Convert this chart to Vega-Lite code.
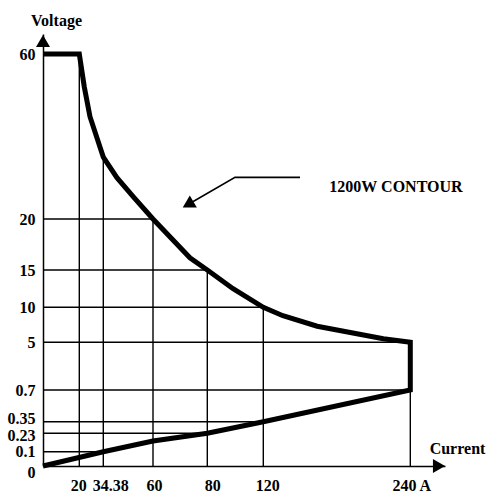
{
  "$schema": "https://vega.github.io/schema/vega-lite/v6.json",
  "width": 402,
  "height": 432,
  "autosize": {"type": "none"},
  "padding": {"left": 43, "top": 34, "right": 44, "bottom": 31},
  "background": "white",
  "config": {"view": {"stroke": null}, "font": "Liberation Serif"},
  "datasets": {
    "vlines": [
      {"I": 20, "V": 0, "V1": 60},
      {"I": 34.38, "V": 0, "V1": 35},
      {"I": 60, "V": 0, "V1": 20},
      {"I": 80, "V": 0, "V1": 15},
      {"I": 120, "V": 0, "V1": 10},
      {"I": 240, "V": 0, "V1": 5}
    ],
    "hlines": [
      {"V": 20, "I": 0, "I1": 60},
      {"V": 15, "I": 0, "I1": 80},
      {"V": 10, "I": 0, "I1": 120},
      {"V": 5, "I": 0, "I1": 240},
      {"V": 0.7, "I": 0, "I1": 240},
      {"V": 0.35, "I": 0, "I1": 120},
      {"V": 0.23, "I": 0, "I1": 80},
      {"V": 0.1, "I": 0, "I1": 34.38}
    ],
    "contour": [
      {"o": 1, "I": 0, "V": 60},
      {"o": 2, "I": 20, "V": 60},
      {"o": 3, "I": 23, "V": 52},
      {"o": 4, "I": 26.4, "V": 44.8},
      {"o": 5, "I": 34.38, "V": 35},
      {"o": 6, "I": 41.4, "V": 30},
      {"o": 7, "I": 50, "V": 25.3},
      {"o": 8, "I": 60, "V": 20},
      {"o": 9, "I": 73.6, "V": 16.2},
      {"o": 10, "I": 80, "V": 15},
      {"o": 11, "I": 98.4, "V": 12.5},
      {"o": 12, "I": 120, "V": 10},
      {"o": 13, "I": 136, "V": 8.8},
      {"o": 14, "I": 164, "V": 7.3},
      {"o": 15, "I": 218, "V": 5.5},
      {"o": 16, "I": 240, "V": 5},
      {"o": 17, "I": 240, "V": 0.7},
      {"o": 18, "I": 120, "V": 0.35},
      {"o": 19, "I": 80, "V": 0.23},
      {"o": 20, "I": 60, "V": 0.175},
      {"o": 21, "I": 34.38, "V": 0.1},
      {"o": 22, "I": 0, "V": 0}
    ],
    "pointer": [
      {"o": 1, "I": 150, "V": 30.1},
      {"o": 2, "I": 99.8, "V": 30.1},
      {"o": 3, "I": 72.9, "V": 23.5}
    ],
    "heads": [
      {"I": 72.9, "V": 23.5, "shape": "triangle-up", "ang": 240, "sz": 200},
      {"I": 0, "V": 63.9, "shape": "triangle-up", "ang": 0, "sz": 196},
      {"I": 264.8, "V": 0, "shape": "triangle-right", "ang": 0, "sz": 196}
    ],
    "label": [
      {"I": 228.3, "V": 27.8, "text": "1200W CONTOUR"}
    ]
  },
  "layer": [
    {
      "data": {"name": "vlines"},
      "mark": {"type": "rule", "color": "black", "strokeWidth": 1.4},
      "encoding": {
        "x": {
          "field": "I", "type": "quantitative",
          "scale": {"domain": [0, 20, 34.38, 60, 80, 120, 240, 270], "range": [0, 36.3, 60.3, 110, 164.3, 220.3, 367.3, 402], "nice": false, "zero": false},
          "axis": {
            "values": [20, 34.38, 60, 80, 120, 240],
            "labelExpr": "datum.value == 240 ? '240 A' : toString(datum.value)",
            "ticks": false, "grid": false,
            "domainColor": "black", "domainWidth": 1.5,
            "labelFont": "Liberation Serif", "labelFontWeight": "bold", "labelFontSize": 16, "labelColor": "black",
            "labelPadding": 11, "labelOverlap": false, "labelFlush": false,
            "labelOffset": {"condition": [{"test": "datum.value == 34.38", "value": 7}, {"test": "datum.value == 80", "value": 5}, {"test": "datum.value == 120", "value": 4}, {"test": "datum.value == 20", "value": -1}], "value": 1},
            "title": "Current", "titleX": 414, "titleY": -18, "titleAlign": "center", "titleBaseline": "middle",
            "titleFont": "Liberation Serif", "titleFontWeight": "bold", "titleFontSize": 16, "titleColor": "black"
          }
        },
        "y": {
          "field": "V", "type": "quantitative",
          "scale": {"domain": [0, 0.1, 0.23, 0.35, 0.7, 5, 10, 15, 20, 60, 66], "range": [432, 417.7, 399.3, 387.7, 356, 308.3, 273.3, 236, 185, 20, 0], "nice": false, "zero": false},
          "axis": {
            "values": [0, 0.1, 0.23, 0.35, 0.7, 5, 10, 15, 20, 60],
            "labelExpr": "toString(datum.value)",
            "ticks": false, "grid": false,
            "domainColor": "black", "domainWidth": 1.5,
            "labelFont": "Liberation Serif", "labelFontWeight": "bold", "labelFontSize": 16, "labelColor": "black",
            "labelPadding": 8, "labelOverlap": false, "labelFlush": false,
            "labelOffset": {"condition": [{"test": "datum.value == 0", "value": 6}, {"test": "datum.value == 0.35", "value": -3}, {"test": "datum.value == 0.23", "value": 2}], "value": 0},
            "title": "Voltage", "titleAngle": 0, "titleX": 13, "titleY": -14, "titleAlign": "center", "titleBaseline": "middle",
            "titleFont": "Liberation Serif", "titleFontWeight": "bold", "titleFontSize": 16, "titleColor": "black"
          }
        },
        "y2": {"field": "V1"}
      }
    },
    {
      "data": {"name": "hlines"},
      "mark": {"type": "rule", "color": "black", "strokeWidth": 1.4},
      "encoding": {
        "y": {"field": "V", "type": "quantitative"},
        "x": {"field": "I", "type": "quantitative"},
        "x2": {"field": "I1"}
      }
    },
    {
      "data": {"name": "contour"},
      "mark": {"type": "line", "color": "black", "strokeWidth": 5, "strokeJoin": "miter", "strokeCap": "butt"},
      "encoding": {
        "x": {"field": "I", "type": "quantitative"},
        "y": {"field": "V", "type": "quantitative"},
        "order": {"field": "o", "type": "quantitative"}
      }
    },
    {
      "data": {"name": "pointer"},
      "mark": {"type": "line", "color": "black", "strokeWidth": 1.6},
      "encoding": {
        "x": {"field": "I", "type": "quantitative"},
        "y": {"field": "V", "type": "quantitative"},
        "order": {"field": "o", "type": "quantitative"}
      }
    },
    {
      "data": {"name": "heads"},
      "mark": {"type": "point", "filled": true, "color": "black", "opacity": 1, "strokeWidth": 0},
      "encoding": {
        "x": {"field": "I", "type": "quantitative"},
        "y": {"field": "V", "type": "quantitative"},
        "shape": {"field": "shape", "type": "nominal", "scale": null},
        "angle": {"field": "ang", "type": "quantitative", "scale": null},
        "size": {"field": "sz", "type": "quantitative", "scale": null}
      }
    },
    {
      "data": {"name": "label"},
      "mark": {"type": "text", "font": "Liberation Serif", "fontWeight": "bold", "fontSize": 16, "color": "black", "align": "center", "baseline": "middle"},
      "encoding": {
        "x": {"field": "I", "type": "quantitative"},
        "y": {"field": "V", "type": "quantitative"},
        "text": {"field": "text"}
      }
    }
  ]
}
